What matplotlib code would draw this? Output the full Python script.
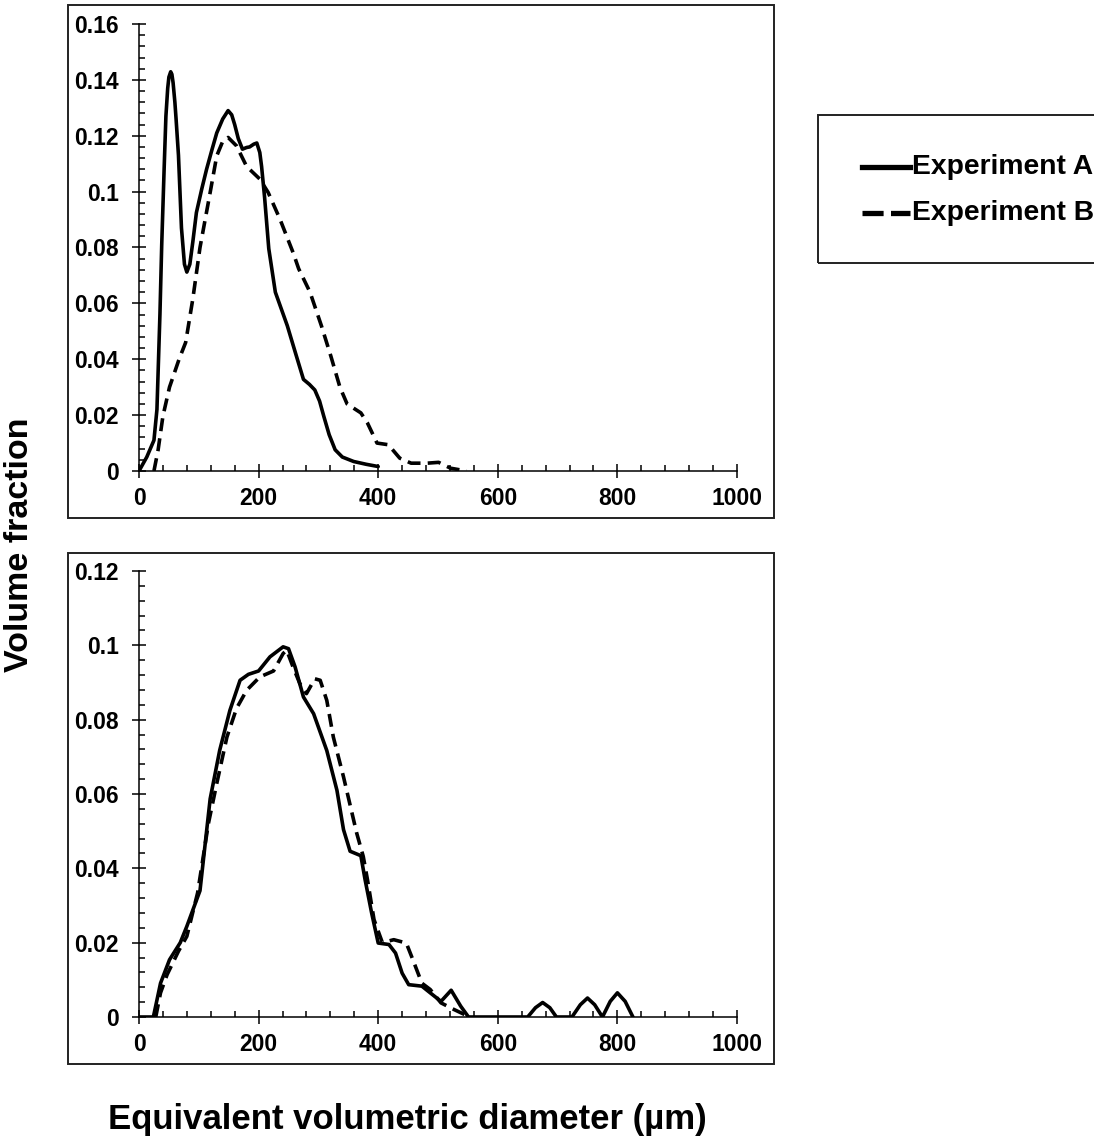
import numpy as np
import matplotlib
matplotlib.use('Agg')
from matplotlib import pyplot as plt
from matplotlib.ticker import MultipleLocator, FuncFormatter
from matplotlib.patches import Rectangle
from matplotlib.lines import Line2D

plt.rcParams['font.family'] = ['Liberation Sans', 'DejaVu Sans']
plt.rcParams['font.weight'] = 'bold'

# top panel, experiment A (solid)
top_a_d = [0, 13, 25, 30, 35, 38, 42, 45, 48, 50, 53, 55, 57, 60, 62, 66, 71, 76, 80, 85, 90, 96,
           105, 113, 122, 130, 140, 149, 155, 160, 166, 173, 180, 185, 192, 197, 202, 205, 210,
           217, 228, 238, 248, 262, 275, 285, 294, 302, 309, 318, 328, 340, 359, 380, 400]
top_a_v = [0, 0.005, 0.011, 0.022, 0.056, 0.081, 0.108, 0.127, 0.137, 0.141, 0.1429, 0.142, 0.139,
           0.132, 0.126, 0.113, 0.087, 0.074, 0.0712, 0.074, 0.082, 0.0925, 0.101, 0.108, 0.115,
           0.121, 0.126, 0.129, 0.1275, 0.124, 0.119, 0.1152, 0.1158, 0.116, 0.117, 0.1174, 0.114,
           0.109, 0.098, 0.0796, 0.064, 0.058, 0.052, 0.042, 0.0328, 0.031, 0.029, 0.025, 0.0196,
           0.013, 0.0076, 0.005, 0.0034, 0.0024, 0.0016]
# top panel, experiment B (dashed)
top_b_d = [25, 32, 40, 51, 67, 78, 90, 102, 119, 130, 140, 149, 163, 180, 202, 216, 236, 258, 267,
           286, 305, 321, 336, 348, 371, 382, 398, 417, 436, 455, 482, 501, 521, 548]
top_b_v = [0, 0.0076, 0.0196, 0.030, 0.040, 0.046, 0.0616, 0.080, 0.0997, 0.1128, 0.118, 0.1194,
           0.1164, 0.109, 0.1045, 0.0997, 0.090, 0.078, 0.0724, 0.064, 0.052, 0.041, 0.030, 0.024,
           0.0208, 0.0172, 0.010, 0.0094, 0.0046, 0.0028, 0.0028, 0.0031, 0.001, 0]

# bottom panel, experiment A (solid)
bot_a_d = [0, 24, 36, 51, 69, 80, 102, 119, 135, 152, 169, 183, 200, 219, 241, 250, 261, 275,
           292, 314, 331, 342, 353, 371, 378, 389, 400, 418, 429, 440, 451, 473, 487, 505, 522,
           538, 551, 650, 663, 675, 687, 698, 724, 738, 750, 762, 775, 788, 800, 813, 826]
bot_a_v = [0, 0, 0.0091, 0.0154, 0.020, 0.0244, 0.034, 0.0587, 0.0718, 0.0825, 0.0906, 0.0922,
           0.0931, 0.0969, 0.0996, 0.0991, 0.0942, 0.0861, 0.0816, 0.0717, 0.061, 0.0504, 0.0446,
           0.0434, 0.037, 0.028, 0.0199, 0.0195, 0.0172, 0.0118, 0.0087, 0.0083, 0.0065, 0.0042,
           0.0072, 0.0029, 0, 0, 0.0025, 0.0039, 0.0025, 0, 0, 0.0033, 0.0051, 0.0033, 0, 0.0042,
           0.0065, 0.0042, 0]
# bottom panel, experiment B (dashed)
bot_b_d = [28, 36, 47, 66, 80, 98, 116, 130, 147, 163, 180, 202, 225, 241, 247, 258, 269, 280,
           294, 303, 314, 325, 342, 364, 375, 382, 393, 407, 426, 447, 458, 473, 487, 505, 527, 553]
bot_b_v = [0, 0.0065, 0.0114, 0.0177, 0.0217, 0.0334, 0.052, 0.0628, 0.0753, 0.083, 0.0879,
           0.0915, 0.0931, 0.0978, 0.0987, 0.094, 0.0897, 0.087, 0.091, 0.0906, 0.0852, 0.0753,
           0.0646, 0.0495, 0.0432, 0.037, 0.0262, 0.020, 0.0208, 0.0199, 0.0154, 0.0091, 0.0074,
           0.0038, 0.002, 0]

W, H = 1094, 1141
fig = plt.figure(figsize=(W / 100, H / 100), dpi=100)

def px_rect(x0, y0, x1, y1):
    return [x0 / W, 1 - y1 / H, (x1 - x0) / W, (y1 - y0) / H]

# outer frames
for (x0, y0, x1, y1) in [(68, 5, 774, 518), (68, 553, 774, 1064), (818, 115, 1100, 263)]:
    fig.patches.append(Rectangle((x0 / W, 1 - y1 / H), (x1 - x0) / W, (y1 - y0) / H,
                                 transform=fig.transFigure, fill=False, lw=1.4,
                                 edgecolor='#222222'))

ax1 = fig.add_axes(px_rect(139, 24, 737, 471))
ax2 = fig.add_axes(px_rect(139, 571, 737, 1017))

dash = (3.6, 2.0)
lw = 2.6
ax1.plot(top_a_d, top_a_v, color='black', lw=lw, solid_joinstyle='round', solid_capstyle='round')
ax1.plot(top_b_d, top_b_v, color='black', lw=lw, dashes=dash)
ax2.plot(bot_a_d, bot_a_v, color='black', lw=lw, solid_joinstyle='round', solid_capstyle='round')
ax2.plot(bot_b_d, bot_b_v, color='black', lw=lw, dashes=dash)

fmt = FuncFormatter(lambda v, p: '{:g}'.format(round(v, 4)))
for ax, ymax in [(ax1, 0.16), (ax2, 0.12)]:
    ax.set_xlim(0, 1000)
    ax.set_ylim(0, ymax)
    ax.patch.set_alpha(0)
    for s in ['top', 'right']:
        ax.spines[s].set_visible(False)
    for s in ['left', 'bottom']:
        ax.spines[s].set_linewidth(1.1)
    ax.xaxis.set_major_locator(MultipleLocator(200))
    ax.xaxis.set_minor_locator(MultipleLocator(40))
    ax.yaxis.set_major_locator(MultipleLocator(0.02))
    ax.yaxis.set_minor_locator(MultipleLocator(0.004))
    ax.yaxis.set_major_formatter(fmt)
    ax.tick_params(which='major', direction='inout', length=9.5, width=1.1,
                   labelsize=16.5, pad=7)
    ax.tick_params(axis='y', which='major', pad=10)
    ax.tick_params(which='minor', direction='in', length=4.5, width=1.1)

# shared axis titles
fig.text(20 / W, 1 - 545 / H, 'Volume fraction', rotation=90, ha='center', va='center',
         fontsize=24.5, fontweight='bold')
fig.text(407 / W, 1 - 1120 / H, 'Equivalent volumetric diameter (µm)', ha='center',
         va='center', fontsize=25, fontweight='bold')

# legend
fig.lines.append(Line2D([862 / W, 910 / W], [1 - 167 / H, 1 - 167 / H], transform=fig.transFigure,
                        color='black', lw=3.8))
fig.lines.append(Line2D([862 / W, 910 / W], [1 - 213 / H, 1 - 213 / H], transform=fig.transFigure,
                        color='black', lw=3.8, dashes=(4.0, 1.4)))
fig.text(912 / W, 1 - 167 / H, 'Experiment A', ha='left', va='center', fontsize=20.3,
         fontweight='bold')
fig.text(912 / W, 1 - 213 / H, 'Experiment B', ha='left', va='center', fontsize=20.3,
         fontweight='bold')

plt.savefig('out.png', dpi=100)
